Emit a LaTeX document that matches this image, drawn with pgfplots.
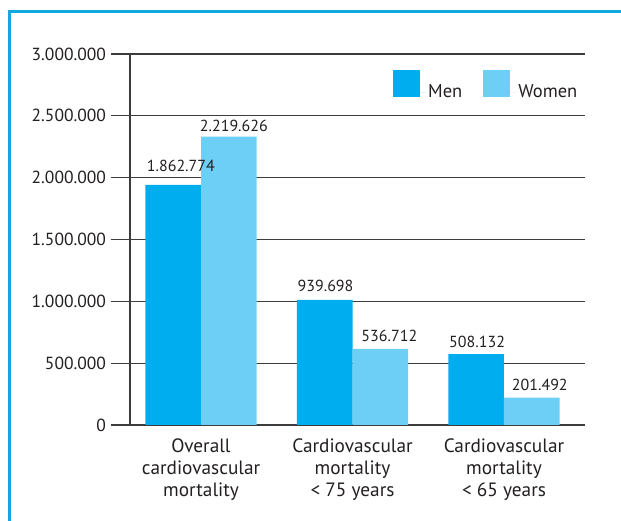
\documentclass[border=0pt]{standalone}
\usepackage{pgfplots}
\pgfplotsset{compat=1.18}
\usepackage{pgfplotstable}
\usepackage{fontspec}
\setmainfont{PT Sans}
\definecolor{men}{HTML}{00AEEF}
\definecolor{women}{HTML}{6DCFF6}
\definecolor{framec}{HTML}{12A7DF}
\definecolor{txt}{HTML}{231F20}
\definecolor{gridc}{HTML}{3C3C3C}

\pgfplotstableread{
x y label dx dy
0 1941000 1.862.774 7.7 13
1 1011000 939.698 0.9 8
2 574000 508.132 1 7
}\mentab
\pgfplotstableread{
x y label dx dy
0 2331000 2.219.626 5 5
1 614600 536.712 9 7
2 221000 201.492 8 7
}\womentab

\begin{document}
\begin{tikzpicture}
\useasboundingbox (0pt,0pt) rectangle (621pt,521pt);
\draw[framec, line width=3pt] (9.5pt,0pt) -- (9.5pt,509.5pt) -- (621pt,509.5pt);
\begin{axis}[
  at={(130pt,96pt)}, anchor=south west, scale only axis,
  width=455pt, height=371pt,
  xmin=-0.469, xmax=2.535, ymin=0, ymax=3000000,
  scaled y ticks=false,
  axis x line=bottom, axis y line=left,
  axis line style={-, gridc, line width=1.2pt},
  ybar=0pt, bar width=55.7pt,
  xtick=data,
  xticklabels={Overall\\cardiovascular\\mortality, Cardiovascular\\mortality\\< 75 years, Cardiovascular\\mortality\\< 65 years},
  x tick style={draw=none},
  xticklabel style={align=center, font=\fontsize{19.3}{21.7}\selectfont, text=txt, anchor=north, inner sep=0pt, yshift=5.3pt},
  ytick={0,500000,1000000,1500000,2000000,2500000,3000000},
  yticklabels={0,500.000,1.000.000,1.500.000,2.000.000,2.500.000,3.000.000},
  yticklabel style={font=\fontsize{17.5}{20}\selectfont, text=txt, xshift=-1.5pt},
  ymajorgrids, major grid style={gridc, line width=1.2pt},
  y tick style={gridc, line width=1.2pt}, major tick length=19pt, tick align=outside,
  legend columns=2,
  legend style={at={(rel axis cs:0.578,0.957)}, anchor=north west, draw=none, fill=none, inner sep=0pt,
    font=\fontsize{18.5}{21}\selectfont, text=txt, cells={anchor=west},
    /tikz/every even column/.append style={column sep=19pt}},
  legend image code/.code={\path (0pt,0pt) rectangle (33pt,0pt);\fill[#1,draw=none] (0pt,-5pt) rectangle (27pt,22pt);},
]
\addplot[fill=men, draw=none,
  nodes near coords, point meta=explicit symbolic,
  visualization depends on={\thisrow{dx} \as \dx},
  visualization depends on={\thisrow{dy} \as \dy},
  nodes near coords style={anchor=base, xshift=\dx, yshift=\dy, font=\fontsize{16}{19}\selectfont, text=txt, inner sep=0pt}]
  table[x=x, y=y, meta=label] {\mentab};
\addplot[fill=women, draw=none,
  nodes near coords, point meta=explicit symbolic,
  visualization depends on={\thisrow{dx} \as \dx},
  visualization depends on={\thisrow{dy} \as \dy},
  nodes near coords style={anchor=base, xshift=\dx, yshift=\dy, font=\fontsize{16}{19}\selectfont, text=txt, inner sep=0pt}]
  table[x=x, y=y, meta=label] {\womentab};
\legend{Men, Women}
\end{axis}
\end{tikzpicture}
\end{document}
